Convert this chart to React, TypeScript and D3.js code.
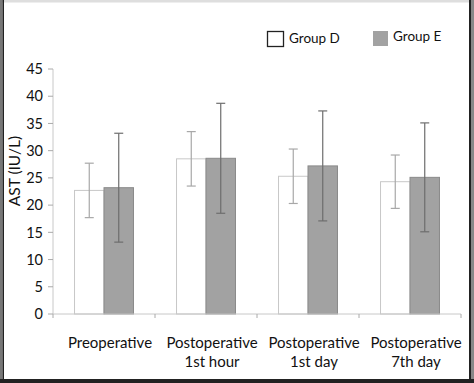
import React from "react";
import * as d3 from "d3";

const categories = ["Preoperative", "Postoperative\n1st hour", "Postoperative\n1st day", "Postoperative\n7th day"];
const groups = ["Group D", "Group E"];
const groupD = [22.7, 28.5, 25.3, 24.3];
const groupDErr = [5.0, 5.0, 5.0, 4.9];
const groupE = [23.2, 28.6, 27.2, 25.1];
const groupEErr = [10.0, 10.1, 10.1, 10.0];
const yTicks = [0, 5, 10, 15, 20, 25, 30, 35, 40, 45];

const W = 474, H = 383;
const FONT = "Lato, 'Open Sans', sans-serif";

export default function App() {
  const y = d3.scaleLinear().domain([0, 45]).range([314, 69]);
  const x = d3.scaleBand<string>().domain(categories).range([53, 461]).paddingInner(0).paddingOuter(0);
  const xs = d3.scaleBand<string>().domain(groups).range([0, x.bandwidth()]).paddingInner(0).paddingOuter(0.73);
  const series = [
    { name: groups[0], vals: groupD, errs: groupDErr, fill: "#ffffff", stroke: "#c8c8c8", err: "#a8a8a8" },
    { name: groups[1], vals: groupE, errs: groupEErr, fill: "#a2a2a2", stroke: "#8a8a8a", err: "#6e6e6e" },
  ];
  const cap = 4.5;
  return (
    <svg width={W} height={H} style={{ position: "absolute", left: 0, top: 0 }} fontFamily={FONT}>
      <rect x={0} y={0} width={W} height={H} fill="#ffffff" />
      <rect x={0} y={0} width={W} height={2.5} fill="#dedede" />
      <rect x={0} y={0} width={2.5} height={H} fill="#777" />
      <rect x={2.5} y={0} width={1.5} height={H} fill="#222" />
      <rect x={469} y={0} width={2} height={H} fill="#222" />
      <rect x={471} y={0} width={3} height={H} fill="#888" />
      <rect x={0} y={379} width={W} height={4} fill="#222" />

      {/* y axis */}
      <line x1={53} x2={53} y1={y(45)} y2={y(0)} stroke="#c8c8c8" strokeWidth={1} />
      {yTicks.map((t) => (
        <g key={t}>
          <line x1={48} x2={53} y1={y(t)} y2={y(t)} stroke="#aaa" />
          <text x={43} y={y(t)} dy="0.36em" textAnchor="end" fontSize={14.5} fill="#111">{t}</text>
        </g>
      ))}
      <text transform={`translate(20,171) rotate(-90)`} textAnchor="middle" fontSize={15.5} fill="#111">AST (IU/L)</text>

      {/* bars */}
      {series.map((s) =>
        categories.map((c, i) => {
          const bx = (x(c) ?? 0) + (xs(s.name) ?? 0);
          const bw = xs.bandwidth();
          const cx = bx + bw / 2;
          return (
            <g key={s.name + c}>
              <rect x={bx} y={y(s.vals[i])} width={bw} height={y(0) - y(s.vals[i])} fill={s.fill} stroke={s.stroke} strokeWidth={1} />
              <line x1={cx} x2={cx} y1={y(s.vals[i] + s.errs[i])} y2={y(s.vals[i] - s.errs[i])} stroke={s.err} strokeWidth={1.2} />
              <line x1={cx - cap} x2={cx + cap} y1={y(s.vals[i] + s.errs[i])} y2={y(s.vals[i] + s.errs[i])} stroke={s.err} strokeWidth={1.2} />
              <line x1={cx - cap} x2={cx + cap} y1={y(s.vals[i] - s.errs[i])} y2={y(s.vals[i] - s.errs[i])} stroke={s.err} strokeWidth={1.2} />
            </g>
          );
        })
      )}

      {/* x axis */}
      <line x1={53} x2={461} y1={y(0)} y2={y(0)} stroke="#c8c8c8" />
      {[...categories.map((c) => x(c) ?? 0), 461].map((p, i) => (
        <line key={i} x1={p} x2={p} y1={y(0)} y2={y(0) + 4} stroke="#aaa" />
      ))}
      {categories.map((c) => {
        const lines = c.split("\n");
        const cx = (x(c) ?? 0) + x.bandwidth() / 2 + 6;
        return (
          <text key={c} x={cx} y={348} textAnchor="middle" fontSize={15} fill="#111">
            {lines.map((l, k) => (
              <tspan key={k} x={cx} dy={k === 0 ? 0 : 19}>{l}</tspan>
            ))}
          </text>
        );
      })}

      {/* legend */}
      <rect x={267.5} y={31.5} width={16} height={15} fill="#fff" stroke="#222" strokeWidth={1.3} />
      <text x={289} y={43} fontSize={13.5} fill="#111">{groups[0]}</text>
      <rect x={373} y={31} width={15} height={15} fill="#a2a2a2" />
      <text x={393} y={41} fontSize={13.5} fill="#111">{groups[1]}</text>
    </svg>
  );
}
